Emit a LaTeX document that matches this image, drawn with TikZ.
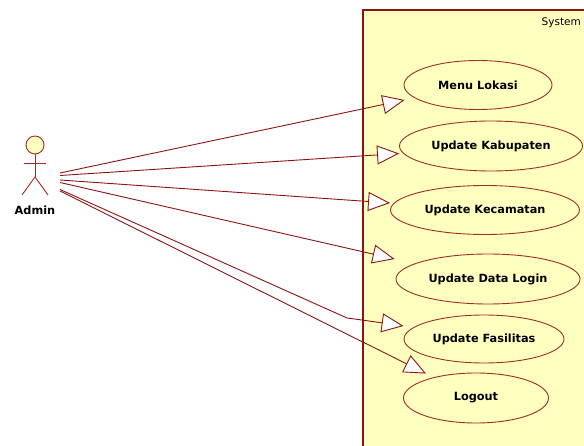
\documentclass[tikz,border=0pt]{standalone}
\usepackage{fontspec}
\setmainfont{DejaVu Sans}
\usetikzlibrary{shapes.geometric,arrows.meta,calc}
\definecolor{umlline}{RGB}{140,20,20}
\definecolor{umledge}{RGB}{160,45,40}
\definecolor{umlfill}{RGB}{255,255,192}
\begin{document}
\begin{tikzpicture}[x=1pt,y=-1pt,
  uc/.style={ellipse,draw=umledge,fill=umlfill,line width=0.9pt,inner sep=0pt,
    font=\fontsize{11.3}{13}\selectfont\bfseries},
  assoc/.style={draw=umlline,line width=0.9pt,
    -{Triangle[length=22pt,width=19pt,fill=white,line width=0.9pt]}},
  actorline/.style={draw=umledge,line width=0.9pt}]
\useasboundingbox (0,0) rectangle (584,446);
\clip (0,0) rectangle (584,446);
\fill[white] (0,0) rectangle (584,446);
% system boundary
\draw[umlline,line width=1.2pt,fill=umlfill] (363,10) rectangle (600,460);
\node[anchor=east,inner sep=0pt,font=\fontsize{10.5}{12}\selectfont] (sys) at (581,23) {System};
% use cases
\node[uc,minimum width=148pt,minimum height=49pt] (menu) at (478,85) {Menu Lokasi};
\node[uc,minimum width=183pt,minimum height=50pt] (kab) at (491,146) {Update Kabupaten};
\node[uc,minimum width=189pt,minimum height=49pt] (kec) at (485,210) {Update Kecamatan};
\node[uc,minimum width=184pt,minimum height=50pt] (login) at (488,279) {Update Data Login};
\node[uc,minimum width=160pt,minimum height=48pt] (fas) at (484,339) {Update Fasilitas};
\node[uc,minimum width=145pt,minimum height=50pt] (logout) at (476,398) {Logout};
% actor
\node[circle,draw=umledge,fill=umlfill,line width=0.9pt,minimum size=18pt,inner sep=0pt] (head) at (35,145) {};
\draw[actorline] (head.south) -- (35,177) coordinate (hip);
\draw[actorline] (24,163) -- (46,163);
\draw[actorline] (22,195) -- (hip) -- (48,195);
\node[font=\fontsize{11.3}{13}\selectfont\bfseries,inner sep=0pt] (admin) at (35,210) {Admin};
% association start points
\coordinate (s1) at (60,173);
\coordinate (s2) at (60,175.5);
\coordinate (s3) at (60,180);
\coordinate (s4) at (60,182.5);
\coordinate (s5) at (60,189.5);
\coordinate (s6) at (60,191);
\coordinate (bend1) at (347,318);
\coordinate (bend2) at (362,320);
% associations
\draw[assoc] (s1) -- ($(menu.west)+(1,15)$);
\draw[assoc] (s2) -- ($(kab.west)+(0,7.5)$);
\draw[assoc] (s3) -- ($(kec.west)+(0,-7)$);
\draw[assoc] (s4) -- ($(login.west)+(-1,-20)$);
\draw[assoc] (s5) -- (bend1) -- (bend2) -- ($(fas.west)+(0,-13)$);
\draw[assoc] (s6) -- ($(logout.north)+(-50,1)$);
\end{tikzpicture}
\end{document}
